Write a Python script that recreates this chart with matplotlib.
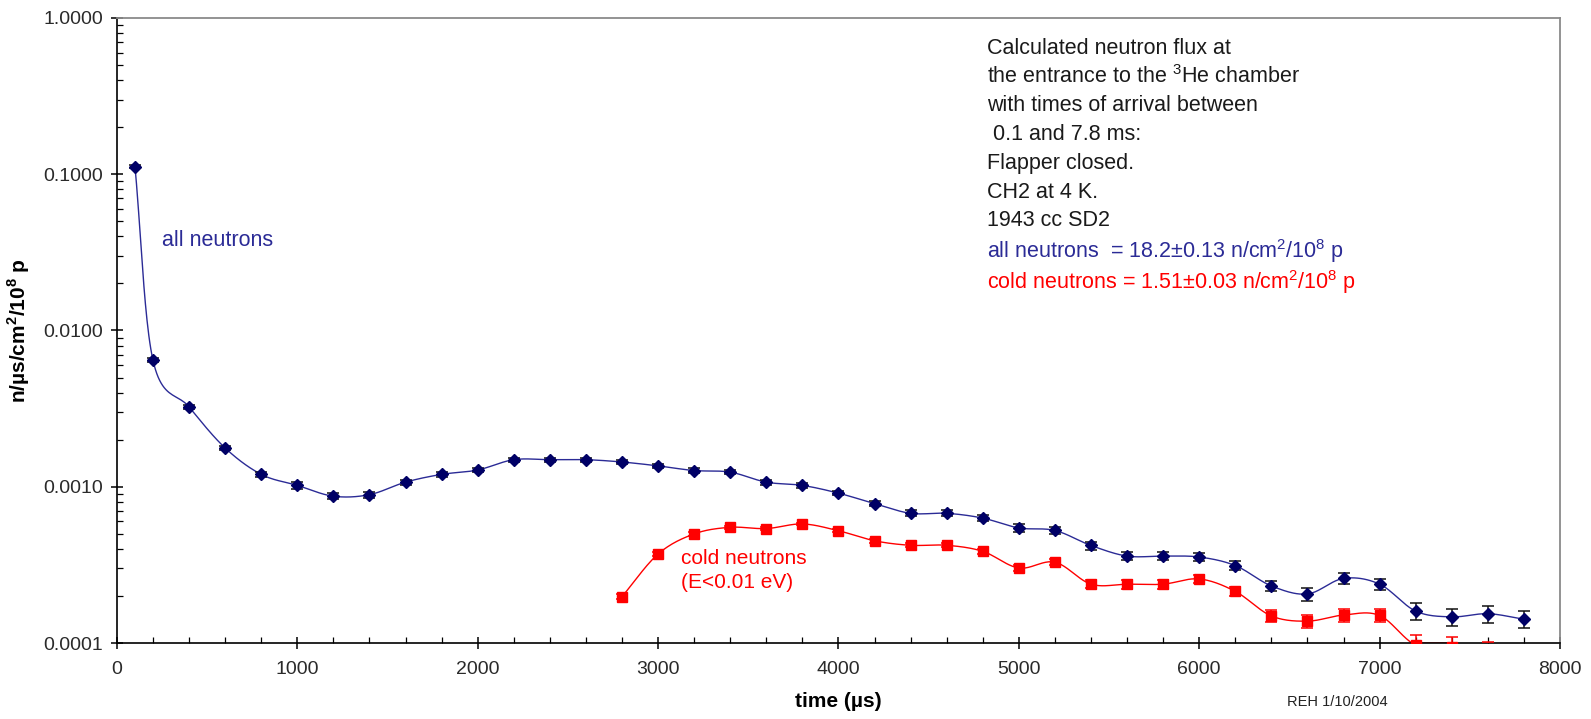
import numpy as np
import matplotlib
matplotlib.use("Agg")
import matplotlib.pyplot as plt
from matplotlib.ticker import FormatStrFormatter, LogLocator, MultipleLocator, NullFormatter

plt.rcParams['font.family'] = ['Liberation Sans', 'DejaVu Sans']
plt.rcParams['mathtext.fontset'] = 'custom'
plt.rcParams['mathtext.rm'] = 'Liberation Sans'
plt.rcParams['mathtext.bf'] = 'Liberation Sans:bold'

# all neutrons (time in microseconds, flux n/us/cm2/1e8 p)
t_all = [100, 200, 400, 600, 800, 1000, 1200, 1400, 1600, 1800, 2000, 2200, 2400, 2600,
         2800, 3000, 3200, 3400, 3600, 3800, 4000, 4200, 4400, 4600, 4800, 5000, 5200,
         5400, 5600, 5800, 6000, 6200, 6400, 6600, 6800, 7000, 7200, 7400, 7600, 7800]
flux_all = [0.112, 0.00644, 0.00324, 0.00177, 0.00120, 0.00102, 0.00087, 0.00089,
            0.00107, 0.00120, 0.00128, 0.00149, 0.00149, 0.00149, 0.00144, 0.00136,
            0.00127, 0.00124, 0.00107, 0.00102, 0.00091, 0.00078, 0.000676, 0.000676,
            0.00063, 0.000545, 0.000525, 0.000421, 0.00036, 0.00036, 0.000355, 0.000313,
            0.000232, 0.000206, 0.000259, 0.000238, 0.00016, 0.000147, 0.000154, 0.000142]
err_all = [0.002, 0.0002, 0.0001, 0.00006, 0.00004, 0.00005, 0.00004, 0.00004,
           0.00004, 0.00004, 0.00004, 0.00004, 0.00004, 0.00004, 0.00004, 0.00004,
           0.00004, 0.00004, 0.00004, 0.00004, 0.00003, 0.00003, 0.00003, 0.00003,
           0.00003, 0.00003, 0.00003, 0.000025, 0.000022, 0.000022, 0.00002, 0.00002,
           0.000018, 0.000019, 0.000022, 0.00002, 0.000019, 0.000018, 0.000019, 0.000018]

# cold neutrons (E < 0.01 eV)
t_cold = [2800, 3000, 3200, 3400, 3600, 3800, 4000, 4200, 4400, 4600, 4800, 5000, 5200,
          5400, 5600, 5800, 6000, 6200, 6400, 6600, 6800, 7000, 7200, 7400, 7600]
flux_cold = [0.000198, 0.000371, 0.000499, 0.00055, 0.00054, 0.000578, 0.000523,
             0.000451, 0.000422, 0.000422, 0.000386, 0.000302, 0.000329, 0.000238,
             0.000238, 0.000238, 0.000257, 0.000214, 0.000149, 0.000138, 0.000151,
             0.00015, 0.000097, 0.000094, 0.000088]
err_cold = [0.000008, 0.00001, 0.000012, 0.000012, 0.000012, 0.000012, 0.000012,
            0.000012, 0.000012, 0.000012, 0.000014, 0.000014, 0.000015, 0.000014,
            0.000015, 0.000015, 0.000015, 0.000014, 0.000013, 0.000014, 0.000014,
            0.000014, 0.000015, 0.000015, 0.000013]

BLUE = '#2b2b96'
NAVY = '#000066'
RED = '#ff0000'


def smooth(x, y, n=24):
    # catmull-rom in (x, log y), like excel smoothed lines
    x = np.asarray(x, float)
    ly = np.log10(np.asarray(y, float))
    px = np.concatenate([[2 * x[0] - x[1]], x, [2 * x[-1] - x[-2]]])
    py = np.concatenate([[2 * ly[0] - ly[1]], ly, [2 * ly[-1] - ly[-2]]])
    xs, ys = [], []
    t = np.linspace(0, 1, n)
    for i in range(1, len(px) - 2):
        for arr, out in ((px, xs), (py, ys)):
            p0, p1, p2, p3 = arr[i - 1], arr[i], arr[i + 1], arr[i + 2]
            out.extend(0.5 * (2 * p1 + (-p0 + p2) * t + (2 * p0 - 5 * p1 + 4 * p2 - p3) * t ** 2
                              + (-p0 + 3 * p1 - 3 * p2 + p3) * t ** 3))
    return np.array(xs), 10 ** np.array(ys)


fig = plt.figure(figsize=(15.91, 7.19), dpi=100)
ax = fig.add_axes([0.0735, 0.1057, 0.9070, 0.8693])

sx, sy = smooth(t_all, flux_all)
ax.plot(sx, sy, color=BLUE, lw=1.0, zorder=2)
ax.errorbar(t_all, flux_all, yerr=err_all, fmt='D', color=NAVY, ms=6, ecolor='#111111',
            elinewidth=1.1, capsize=4, capthick=1.1, zorder=3)

n_line = t_cold.index(7400) + 1
cx, cy = smooth(t_cold[:n_line], flux_cold[:n_line])
ax.plot(cx, np.maximum(cy, 1.0e-4), color=RED, lw=1.0, zorder=2)
ax.errorbar(t_cold, flux_cold, yerr=err_cold, fmt='s', color=RED, ms=7, ecolor=RED,
            elinewidth=1.1, capsize=4, capthick=1.1, zorder=3)

ax.set_yscale('log')
ax.set_xlim(0, 8000)
ax.set_ylim(1e-4, 1.0)
ax.xaxis.set_major_locator(MultipleLocator(1000))
ax.xaxis.set_minor_locator(MultipleLocator(200))
ax.yaxis.set_major_locator(LogLocator(base=10, numticks=10))
ax.yaxis.set_minor_locator(LogLocator(base=10, subs=np.arange(2, 10), numticks=20))
ax.yaxis.set_major_formatter(FormatStrFormatter('%.4f'))
ax.yaxis.set_minor_formatter(NullFormatter())
ax.tick_params(which='major', direction='inout', length=8, width=1.1, labelsize=14,
               labelcolor='#2a2a2a', pad=6)
ax.tick_params(which='minor', direction='in', length=4, width=0.9)
ax.tick_params(axis='x', which='major', pad=9)

for side in ('top', 'right'):
    ax.spines[side].set_color('#8a8a8a')
    ax.spines[side].set_linewidth(1.3)
for side in ('left', 'bottom'):
    ax.spines[side].set_color('black')
    ax.spines[side].set_linewidth(1.2)

ax.set_xlabel('time (\u00b5s)', fontsize=15, fontweight='bold', labelpad=10)
ax.set_ylabel('n/\u00b5s/cm$^{\\mathbf{2}}$/10$^{\\mathbf{8}}$ p',
              fontsize=15, fontweight='bold', labelpad=8)

ax.text(250, 0.0374, 'all neutrons', color=BLUE, fontsize=15.5, va='center')
ax.text(3126, 0.00029, 'cold neutrons\n(E<0.01 eV)', color=RED, fontsize=15, va='center',
        linespacing=1.3)

info = ['Calculated neutron flux at',
        'the entrance to the $^{3}$He chamber',
        'with times of arrival between',
        ' 0.1 and 7.8 ms:',
        'Flapper closed.',
        'CH2 at 4 K.',
        '1943 cc SD2']
y0 = 48
for i, line in enumerate(info):
    fig.text(987 / 1591, 1 - (y0 + 28.8 * i) / 719, line, fontsize=15.5, color='#1a1a1a',
             va='center')
fig.text(987 / 1591, 1 - 251 / 719, 'all neutrons  = 18.2\u00b10.13 n/cm$^{2}$/10$^{8}$ p',
         fontsize=15.5, color=BLUE, va='center')
fig.text(987 / 1591, 1 - 282 / 719, 'cold neutrons = 1.51\u00b10.03 n/cm$^{2}$/10$^{8}$ p',
         fontsize=15.5, color=RED, va='center')

fig.text(1337 / 1591, 1 - 702 / 719, 'REH 1/10/2004', fontsize=10.5, color='#222222',
         ha='center', va='center')

fig.savefig('out.png', dpi=100)
